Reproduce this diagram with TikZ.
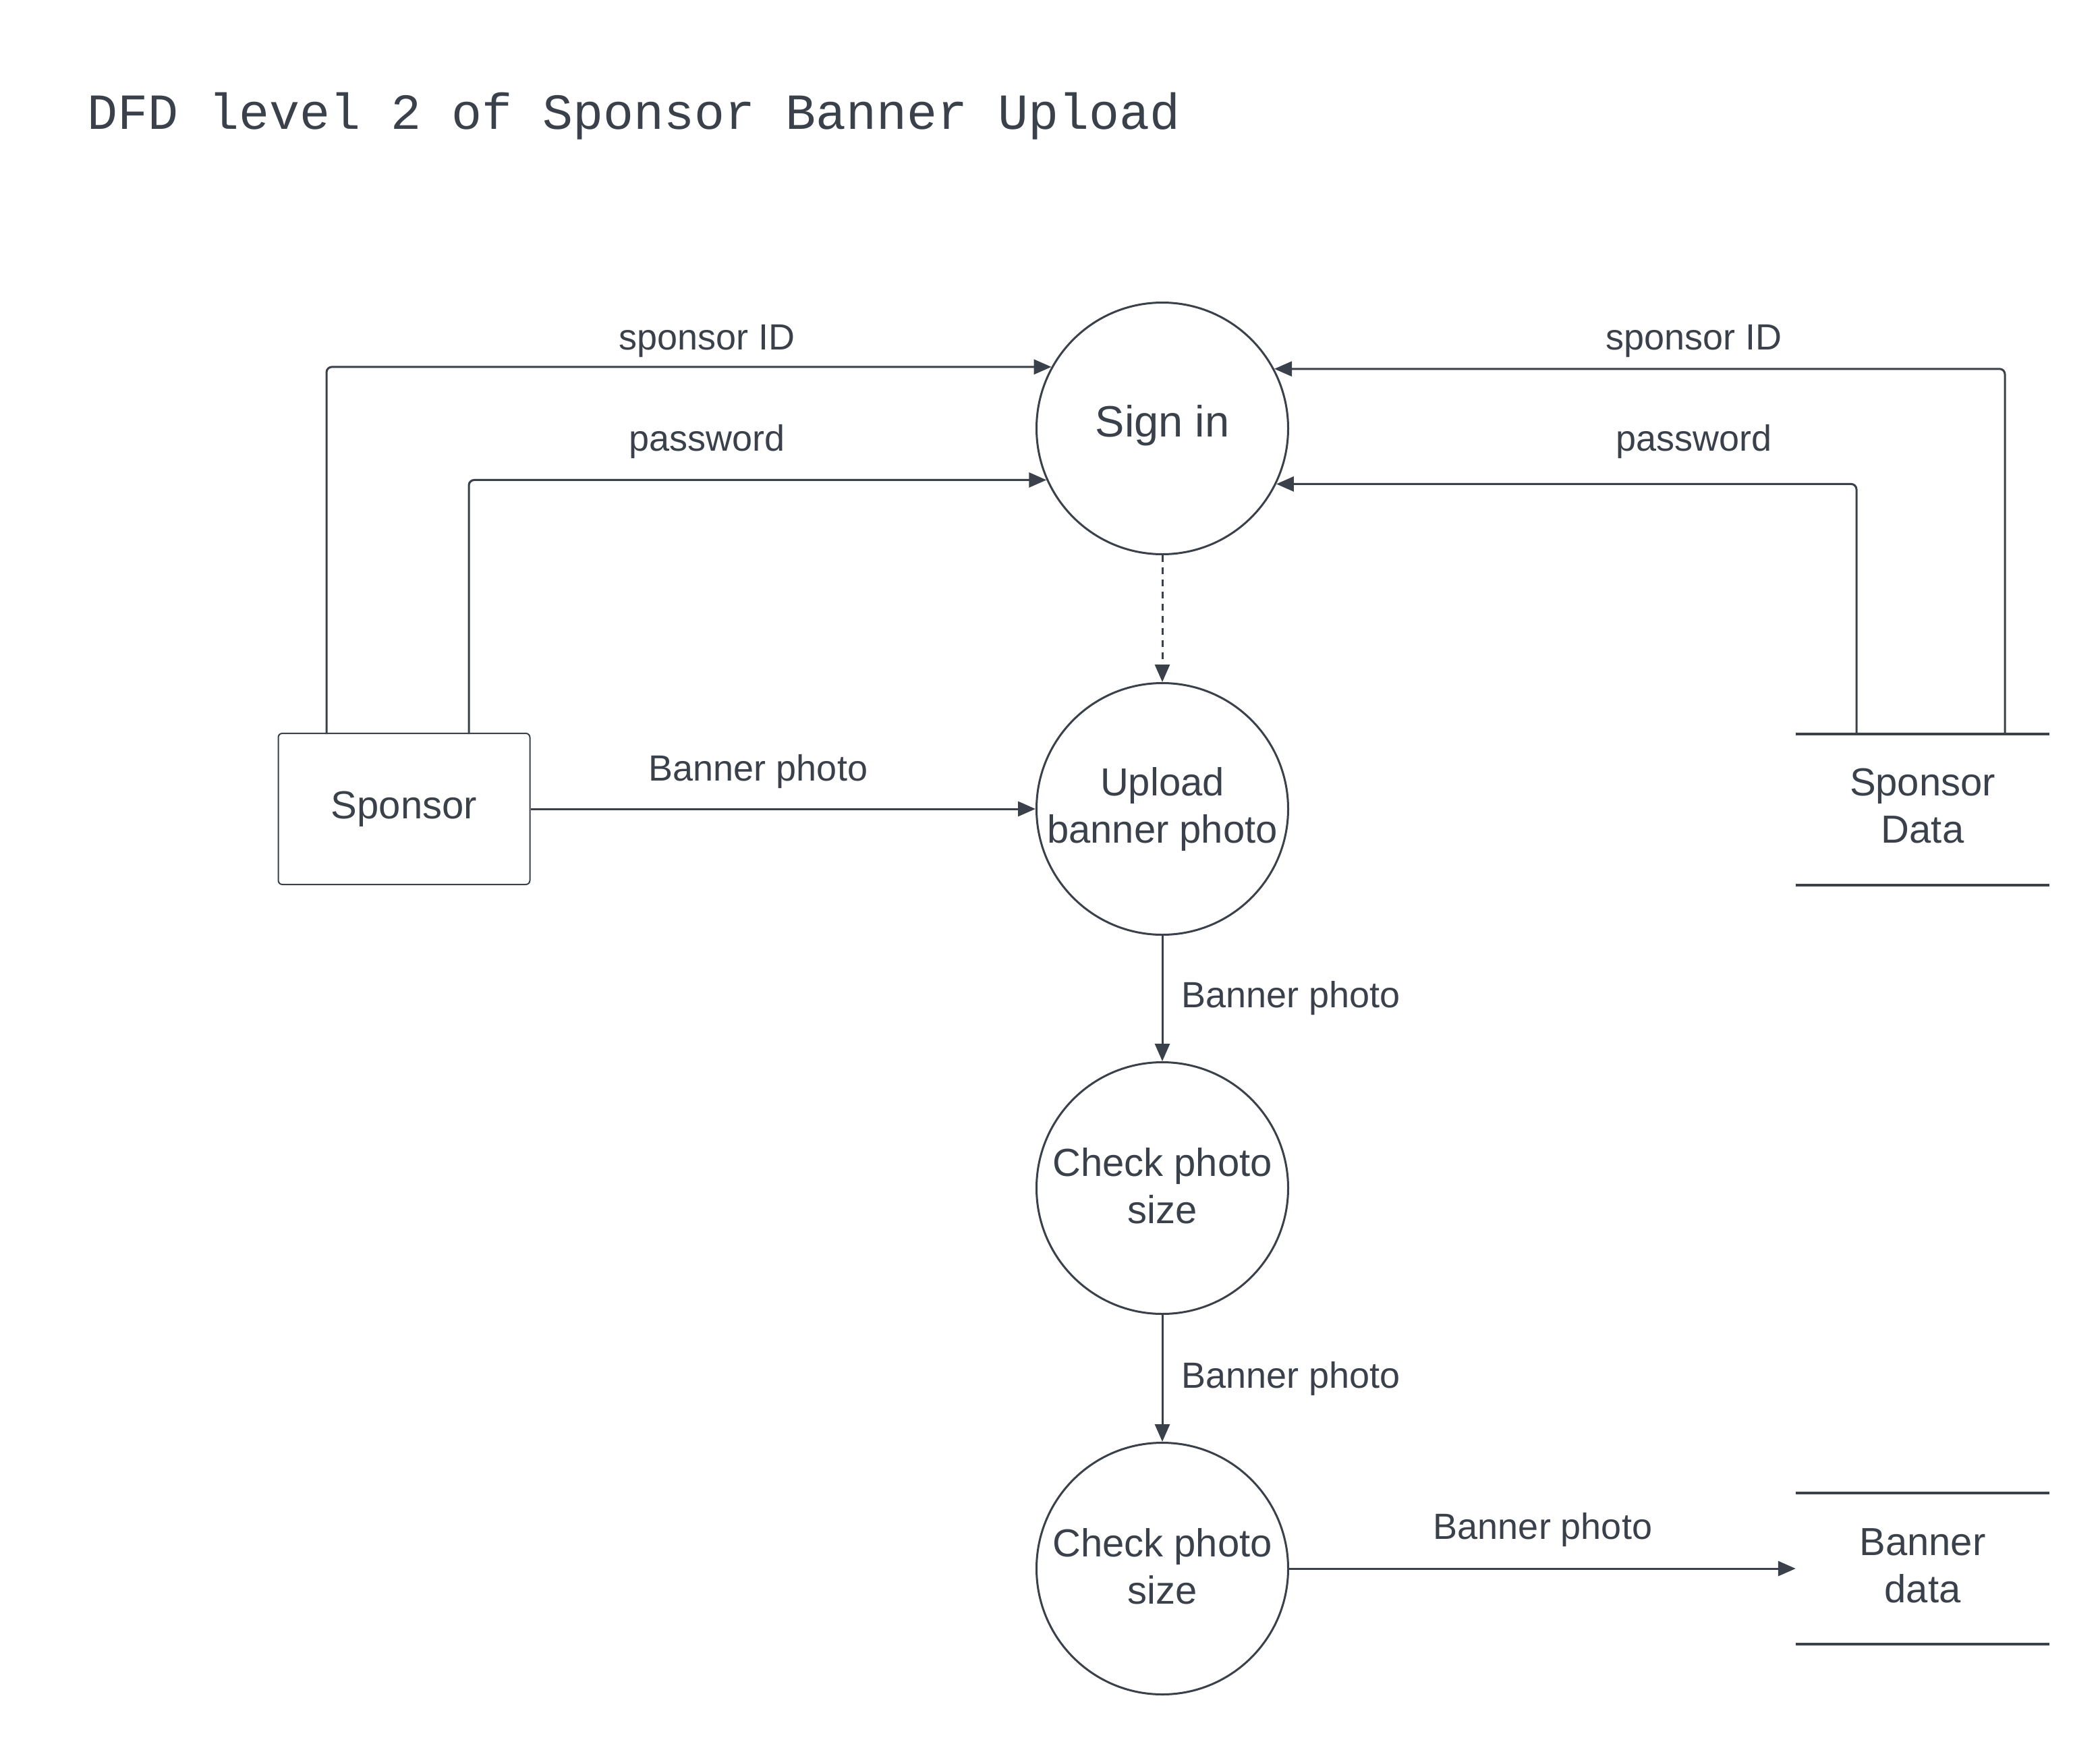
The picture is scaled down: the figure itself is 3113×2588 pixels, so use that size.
\documentclass[tikz,border=0pt]{standalone}
\usepackage{fontspec}
\setmainfont{Liberation Sans}
\newfontfamily\titlefont{Liberation Mono}
\usetikzlibrary{arrows.meta}
\definecolor{ink}{HTML}{3A414A}
\newcommand{\dpt}[1]{\rule[-#1]{0pt}{0pt}}
\tikzset{
  proc/.style={circle, draw=ink, line width=3pt, minimum size=373pt, inner sep=0pt,
    align=center, text=ink, font=\fontsize{58}{70}\selectfont},
  ent/.style={rectangle, draw=ink, line width=2pt, rounded corners=6pt, minimum width=373pt,
    minimum height=224pt, text=ink, font=\fontsize{58}{70}\selectfont},
  storetext/.style={minimum width=376pt, minimum height=224pt, inner sep=0pt, align=center,
    text=ink, font=\fontsize{58}{70}\selectfont},
  storeline/.style={draw=ink, line width=4pt},
  flow/.style={draw=ink, line width=3pt, rounded corners=8pt, -{Triangle[length=26pt,width=22pt]}},
  lbl/.style={text=ink, font=\fontsize{54}{64}\selectfont, inner sep=0pt}
}
\begin{document}
\begin{tikzpicture}[x=1pt,y=-1pt]
\useasboundingbox (0,0) rectangle (3113,2588);
\node[anchor=base west, text=ink, inner sep=0pt, font=\titlefont\fontsize{75}{90}\selectfont] (title) at (129,191) {DFD level 2 of Sponsor Banner Upload};

\node[proc, font=\fontsize{65}{78}\selectfont] (signin) at (1723,635) {Sign in\dpt{22pt}};
\node[proc] (upload) at (1723,1199) {Upload\\banner photo};
\node[proc] (check1) at (1723,1761) {Check photo\\size\dpt{8pt}};
\node[proc] (check2) at (1723,2325) {Check photo\\size\dpt{8pt}};

\node[ent] (sponsor) at (599,1199) {Sponsor};

\node[storetext] (sdata) at (2850,1200) {Sponsor\\Data\dpt{12pt}};
\draw[storeline] (sdata.north west) -- (sdata.north east);
\draw[storeline] (sdata.south west) -- (sdata.south east);

\node[storetext] (bdata) at (2850,2325) {Banner\\data\dpt{8pt}};
\draw[storeline] (bdata.north west) -- (bdata.north east);
\draw[storeline] (bdata.south west) -- (bdata.south east);

\coordinate (sL1) at (484,1088);
\coordinate (sL2) at (695,1088);
\coordinate (dR1) at (2972,1088);
\coordinate (dR2) at (2752,1088);

\draw[flow] (sL1) |- (signin.151.6);
\draw[flow] (sL2) |- (signin.204.7);
\draw[flow] (dR1) |- (signin.28.4);
\draw[flow] (dR2) |- (signin.-26);

\draw[flow, dashed, dash pattern=on 10pt off 8pt] (signin.south) -- (upload.north);
\draw[flow] (sponsor.east) -- (upload.west);
\draw[flow] (upload.south) -- (check1.north);
\draw[flow] (check1.south) -- (check2.north);
\draw[flow] (check2.east) -- (bdata.west);

\node[lbl, anchor=base] (l1) at (1048,518) {sponsor ID};
\node[lbl, anchor=base] (l2) at (1048,668) {password};
\node[lbl, anchor=base] (l3) at (2511,518) {sponsor ID};
\node[lbl, anchor=base] (l4) at (2511,668) {password};
\node[lbl, anchor=base] (l5) at (1124,1157) {Banner photo};
\node[lbl, anchor=base west] (l6) at (1751,1493) {Banner photo};
\node[lbl, anchor=base west] (l7) at (1751,2057) {Banner photo};
\node[lbl, anchor=base] (l8) at (2287,2281) {Banner photo};
\end{tikzpicture}
\end{document}
